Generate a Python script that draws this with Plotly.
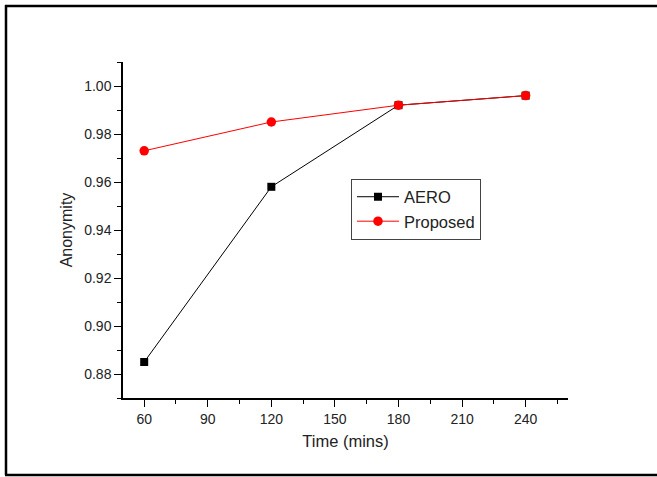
import plotly.graph_objects as go

# Observation times (minutes)
time_mins = [60, 120, 180, 240]

# Anonymity per scheme
aero = [0.885, 0.958, 0.992, 0.996]
proposed = [0.973, 0.985, 0.992, 0.996]

W, H = 657, 477
L, R, T, B = 123, 89, 62, 79
pw, ph = W - L - R, H - T - B


def px_x(x):
    return (x - L) / pw


def px_y(y):
    return (H - B - y) / ph


font = "Liberation Sans, Arial, sans-serif"

fig = go.Figure()
fig.add_trace(go.Scatter(
    x=time_mins, y=aero, name="AERO", mode="lines+markers",
    line=dict(color="black", width=1),
    marker=dict(symbol="square", size=8, color="black"),
))
fig.add_trace(go.Scatter(
    x=time_mins, y=proposed, name="Proposed", mode="lines+markers",
    line=dict(color="red", width=1),
    marker=dict(symbol="circle", size=9.5, color="red"),
))

axis_common = dict(
    showline=True, linecolor="black", linewidth=1.5, mirror=False,
    showgrid=False, zeroline=False,
    ticks="outside", ticklen=7, tickwidth=1.3, tickcolor="black",
    tickfont=dict(family=font, size=14, color="#222"),
)

fig.update_xaxes(
    range=[50, 260], tick0=60, dtick=30,
    minor=dict(ticks="outside", ticklen=4, tickwidth=1.3, tickcolor="black", tick0=75, dtick=30),
    title=dict(text="Time (mins)", font=dict(family=font, size=16.5, color="#222"), standoff=10),
    **axis_common,
)
fig.update_yaxes(
    range=[0.87, 1.01], tick0=0.88, dtick=0.02, tickformat=".2f",
    minor=dict(ticks="outside", ticklen=4, tickwidth=1.3, tickcolor="black", tick0=0.87, dtick=0.02),
    title=dict(text="Anonymity", font=dict(family=font, size=16, color="#222"), standoff=8),
    **axis_common,
)

# Outer frame (left, top and bottom edges)
frame = dict(type="line", xref="paper", yref="paper", line=dict(color="black", width=2.5))
fig.add_shape(x0=px_x(6), x1=px_x(6), y0=px_y(5), y1=px_y(475), **frame)
fig.add_shape(x0=px_x(5), x1=px_x(657), y0=px_y(6), y1=px_y(6), **frame)
fig.add_shape(x0=px_x(5), x1=px_x(657), y0=px_y(475), y1=px_y(475), **frame)

fig.update_layout(
    width=W, height=H,
    margin=dict(l=L, r=R, t=T, b=B, autoexpand=False),
    paper_bgcolor="white", plot_bgcolor="white",
    font=dict(family=font, color="#222"),
    legend=dict(
        x=px_x(351), y=px_y(209), xanchor="left", yanchor="middle",
        bgcolor="white", bordercolor="#444", borderwidth=1,
        font=dict(family=font, size=16.5, color="#222"),
        tracegroupgap=0, itemwidth=42,
    ),
)

fig.write_html("out.html")
